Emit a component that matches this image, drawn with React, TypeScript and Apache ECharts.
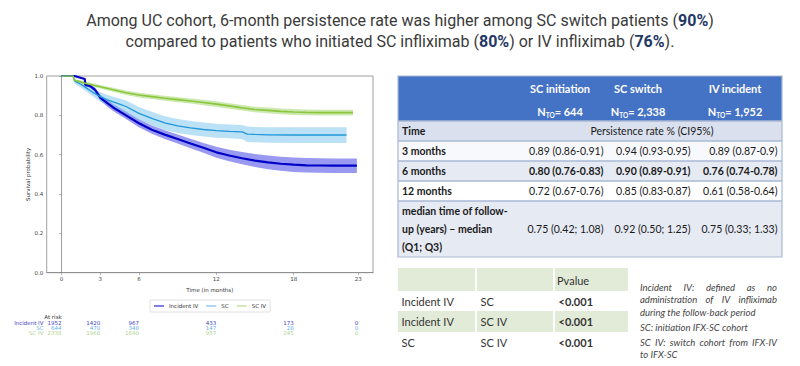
import React, { useEffect, useRef } from "react";
import * as echarts from "echarts";

// ---- KM curve data (time in months, survival probability) ----
const ivT = [0, 1.0, 1.8, 1.85, 2.2, 2.6, 3.0, 3.5, 4.0, 5.0, 6.0, 7.0, 8.0, 9.0, 10.0, 11.0, 12.0, 13.0, 14.0, 15.0, 16.0, 17.0, 18.0, 19.0, 20.0, 21.0, 22.0, 22.9];
const ivS = [1.0, 1.0, 0.985, 0.955, 0.95, 0.93, 0.89, 0.865, 0.84, 0.8, 0.76, 0.727, 0.702, 0.68, 0.657, 0.635, 0.612, 0.596, 0.582, 0.57, 0.561, 0.554, 0.549, 0.546, 0.545, 0.544, 0.544, 0.544];
const ivLo = [1.0, 1.0, 0.98, 0.945, 0.94, 0.918, 0.875, 0.848, 0.822, 0.781, 0.74, 0.706, 0.68, 0.657, 0.633, 0.61, 0.585, 0.567, 0.551, 0.537, 0.526, 0.518, 0.512, 0.509, 0.508, 0.507, 0.507, 0.507];
const ivHi = [1.0, 1.0, 0.99, 0.963, 0.96, 0.942, 0.905, 0.882, 0.858, 0.82, 0.78, 0.748, 0.724, 0.703, 0.681, 0.66, 0.64, 0.625, 0.613, 0.603, 0.596, 0.59, 0.586, 0.583, 0.582, 0.581, 0.581, 0.581];

const scT = [0, 0.9, 1.0, 1.5, 2.0, 2.5, 3.0, 3.5, 4.0, 4.5, 5.0, 6.0, 7.0, 8.0, 9.0, 10.0, 11.0, 12.0, 13.0, 14.0, 14.4, 15.0, 16.0, 18.0, 20.0, 22.1];
const scS = [1.0, 1.0, 0.975, 0.958, 0.936, 0.914, 0.895, 0.88, 0.868, 0.857, 0.845, 0.81, 0.785, 0.762, 0.746, 0.736, 0.728, 0.722, 0.718, 0.716, 0.705, 0.703, 0.701, 0.7, 0.7, 0.7];
const scLo = [1.0, 1.0, 0.962, 0.942, 0.917, 0.893, 0.87, 0.853, 0.84, 0.827, 0.813, 0.776, 0.75, 0.726, 0.71, 0.7, 0.692, 0.686, 0.683, 0.68, 0.665, 0.663, 0.661, 0.66, 0.66, 0.66];
const scHi = [1.0, 1.0, 0.986, 0.972, 0.953, 0.933, 0.917, 0.905, 0.894, 0.885, 0.875, 0.842, 0.818, 0.796, 0.781, 0.771, 0.763, 0.757, 0.753, 0.751, 0.743, 0.741, 0.74, 0.74, 0.74, 0.74];

const swT = [0, 0.9, 1.0, 1.5, 2.0, 3.0, 4.0, 5.0, 6.0, 7.0, 8.0, 9.0, 10.0, 11.0, 12.0, 13.0, 14.0, 15.0, 16.0, 17.0, 18.0, 19.0, 20.0, 21.0, 22.0, 22.6];
const swS = [1.0, 1.0, 0.978, 0.97, 0.961, 0.945, 0.93, 0.915, 0.903, 0.895, 0.887, 0.88, 0.873, 0.865, 0.857, 0.848, 0.838, 0.83, 0.825, 0.82, 0.817, 0.815, 0.814, 0.814, 0.814, 0.814];
const swLo = [1.0, 1.0, 0.972, 0.963, 0.953, 0.936, 0.92, 0.904, 0.891, 0.883, 0.874, 0.867, 0.86, 0.851, 0.843, 0.834, 0.824, 0.816, 0.81, 0.805, 0.802, 0.8, 0.799, 0.799, 0.799, 0.799];
const swHi = [1.0, 1.0, 0.984, 0.977, 0.969, 0.954, 0.94, 0.926, 0.915, 0.907, 0.9, 0.893, 0.886, 0.879, 0.871, 0.862, 0.852, 0.844, 0.84, 0.835, 0.832, 0.83, 0.829, 0.829, 0.829, 0.829];

// ---- At-risk table ----
const riskTicks = [0, 3, 6, 12, 18, 23];
const riskIV = [1952, 1420, 967, 433, 173, 0];
const riskSC = [644, 470, 348, 147, 28, 0];
const riskSW = [2338, 1968, 1640, 957, 245, 0];

// ---- Persistence table ----
const tableHeads = ["SC initiation", "SC switch", "IV incident"];
const tableN = ["644", "2,338", "1,952"];
const rowLabels = ["3 months", "6 months", "12 months"];
const row3 = ["0.89 (0.86-0.91)", "0.94 (0.93-0.95)", "0.89 (0.87-0.9)"];
const row6 = ["0.80 (0.76-0.83)", "0.90 (0.89-0.91)", "0.76 (0.74-0.78)"];
const row12 = ["0.72 (0.67-0.76)", "0.85 (0.83-0.87)", "0.61 (0.58-0.64)"];
const rowMedian = ["0.75 (0.42; 1.08)", "0.92 (0.50; 1.25)", "0.75 (0.33; 1.33)"];

// ---- P-value table ----
const pRows = [
  ["Incident IV", "SC", "<0.001"],
  ["Incident IV", "SC IV", "<0.001"],
  ["SC", "SC IV", "<0.001"],
];

// ---- Notes ----
const notes: [string, boolean][] = [
  ["Incident IV: defined as no", true],
  ["administration of IV infliximab", true],
  ["during the follow-back period", false],
  ["SC: initiation IFX-SC cohort", false],
  ["SC IV: switch cohort from IFX-IV", true],
  ["to IFX-SC", false],
];

const C_IV = "#0000c8";
const C_SC = "#2196d8";
const C_SW = "#8cc63f";

function pairs(t: number[], s: number[]) {
  return t.map((x, i) => [x, s[i]]);
}

function band(name: string, t: number[], lo: number[], hi: number[], fill: string) {
  return {
    type: "custom",
    name,
    silent: true,
    z: 1,
    data: t.map((x, i) => [x, lo[i], hi[i]]),
    encode: { x: 0, y: [1, 2] },
    renderItem: (params: any, api: any) => {
      if (params.dataIndex !== 0) return null;
      const pts: number[][] = [];
      for (let i = 0; i < t.length; i++) pts.push(api.coord([t[i], hi[i]]));
      for (let i = t.length - 1; i >= 0; i--) pts.push(api.coord([t[i], lo[i]]));
      return { type: "polygon", shape: { points: pts }, style: { fill } };
    },
  };
}

const CHART_FONT = "DejaVu Sans";
const TFONT = "Lato";

export default function App() {
  const ref = useRef<HTMLDivElement>(null);
  useEffect(() => {
    if (!ref.current) return;
    const chart = echarts.init(ref.current, null, { renderer: "svg" });
    const ctx = document.createElement("canvas").getContext("2d") as CanvasRenderingContext2D;
    const measure = (t: string, font: string) => {
      ctx.font = font;
      return ctx.measureText(t).width;
    };

    const riskAxis = (vals: number[], color: string, offset: number) => ({
      type: "value",
      gridIndex: 0,
      position: "bottom",
      min: -1.15,
      max: 24.15,
      offset,
      axisLine: { show: false },
      axisTick: { show: false },
      splitLine: { show: false },
      axisLabel: {
        customValues: riskTicks,
        margin: 0,
        align: "right",
        fontSize: 5.5,
        fontFamily: CHART_FONT,
        color,
        formatter: (v: number) => {
          const i = riskTicks.indexOf(Math.round(v));
          return i >= 0 ? String(vals[i]) : "";
        },
      },
    });

    const graphic: any[] = [];
    // Title
    const titleRich = {
      n: { fontSize: 16, fontFamily: "Roboto", fill: "#3a3a3a" },
      b: { fontSize: 16, fontFamily: "Roboto", fontWeight: "bold", fill: "#1f3864" },
    };
    graphic.push({
      type: "text",
      style: {
        x: 400, y: 20, align: "center", verticalAlign: "middle",
        text: "{n|Among UC cohort, 6-month persistence rate was higher among SC switch patients (}{b|90%}{n|)}",
        rich: titleRich,
      },
    });
    graphic.push({
      type: "text",
      style: {
        x: 400, y: 41, align: "center", verticalAlign: "middle",
        text: "{n|compared to patients who initiated SC infliximab (}{b|80%}{n|) or IV infliximab (}{b|76%}{n|).}",
        rich: titleRich,
      },
    });

    // Chart texts
    graphic.push({ type: "text", style: { x: 53, y: 316.7, text: "At risk", align: "center", verticalAlign: "middle", fontSize: 5.5, fontFamily: CHART_FONT, fill: "#333" } });
    const rn: [string, string, number][] = [["Incident IV", "#4646c0", 322.7], ["SC", "#6ab0e8", 327.7], ["SC IV", "#b0d48f", 332.7]];
    rn.forEach(([t, c, y]) =>
      graphic.push({ type: "text", style: { x: 43.5, y, text: t, align: "right", verticalAlign: "middle", fontSize: 5.5, fontFamily: CHART_FONT, fill: c } })
    );

    // Persistence table
    const TX = 398, TW = 384;
    const rowsY = [76, 121, 141, 161, 181, 201, 257];
    const fills = ["#4472c4", "#dae0ee", "#f8f9fc", "#e6eaf3", "#ffffff", "#e6eaf3"];
    for (let i = 0; i < 6; i++) {
      graphic.push({ type: "rect", shape: { x: TX, y: rowsY[i], width: TW, height: rowsY[i + 1] - rowsY[i] }, style: { fill: fills[i] } });
    }
    for (let i = 1; i < 6; i++) {
      graphic.push({ type: "line", shape: { x1: TX, y1: rowsY[i], x2: TX + TW, y2: rowsY[i] }, style: { stroke: "#a9b8d4", lineWidth: 1.5 } });
    }
    graphic.push({ type: "rect", shape: { x: TX, y: 76, width: TW, height: 181 }, style: { fill: "none", stroke: "#a9b8d4", lineWidth: 1.2 } });

    const headX = [560, 638, 735];
    tableHeads.forEach((h, i) => {
      graphic.push({ type: "text", style: { x: headX[i], y: 88.5, text: h, align: "center", verticalAlign: "middle", fontSize: 11, fontWeight: "bold", fontFamily: TFONT, fill: "#ffffff" } });
      graphic.push({
        type: "text",
        style: {
          x: headX[i], y: 111.5, align: "center", verticalAlign: "middle",
          text: `{a|N}{s|TO}{a|= ${tableN[i]}}`,
          rich: {
            a: { fontSize: 11, fontWeight: "bold", fontFamily: TFONT, fill: "#ffffff", lineHeight: 14 },
            s: { fontSize: 6.5, fontWeight: "bold", fontFamily: TFONT, fill: "#ffffff", lineHeight: 8, verticalAlign: "bottom" },
          },
        },
      });
    });
    const lblStyle = { fontSize: 10.5, fontWeight: "bold", fontFamily: TFONT, fill: "#1a1a1a", verticalAlign: "middle", align: "left" };
    graphic.push({ type: "text", style: { ...lblStyle, x: 402, y: 131, text: "Time" } });
    graphic.push({ type: "text", style: { x: 652, y: 131, text: "Persistence rate % (CI95%)", align: "center", verticalAlign: "middle", fontSize: 10.5, fontFamily: TFONT, fill: "#1a1a1a" } });
    const rowYs = [151, 171, 191];
    rowLabels.forEach((l, i) => graphic.push({ type: "text", style: { ...lblStyle, x: 402, y: rowYs[i], text: l } }));
    ["median time of follow-", "up (years) \u2013 median", "(Q1; Q3)"].forEach((l, i) =>
      graphic.push({ type: "text", style: { ...lblStyle, x: 402, y: 211 + i * 18, text: l } })
    );
    const valX = [603.5, 690.5, 777.5];
    const vals = [row3, row6, row12];
    vals.forEach((row, r) =>
      row.forEach((v, c) =>
        graphic.push({
          type: "text",
          style: { x: valX[c], y: rowYs[r], text: v, align: "right", verticalAlign: "middle", fontSize: 10.5, fontWeight: r === 1 ? "bold" : "normal", fontFamily: TFONT, fill: "#1a1a1a" },
        })
      )
    );
    rowMedian.forEach((v, c) =>
      graphic.push({ type: "text", style: { x: valX[c], y: 229, text: v, align: "right", verticalAlign: "middle", fontSize: 10.5, fontFamily: TFONT, fill: "#1a1a1a" } })
    );

    // P-value table
    const colX = [398, 477, 555];
    const colW = [77, 76, 73];
    const pY = [268, 291, 311, 332, 352];
    const pFill = ["#e2ebd8", "#ffffff", "#e2ebd8", "#ffffff"];
    for (let r = 0; r < 4; r++) {
      for (let c = 0; c < 3; c++) {
        graphic.push({ type: "rect", shape: { x: colX[c], y: pY[r], width: colW[c], height: pY[r + 1] - pY[r] }, style: { fill: pFill[r] } });
      }
    }
    graphic.push({ type: "text", style: { x: 557, y: 280, text: "Pvalue", align: "left", verticalAlign: "middle", fontSize: 11, fontFamily: TFONT, fill: "#333" } });
    pRows.forEach((row, r) => {
      const y = (pY[r + 1] + pY[r + 2]) / 2;
      row.forEach((v, c) =>
        graphic.push({ type: "text", style: { x: colX[c] + 3.5, y, text: v, align: "left", verticalAlign: "middle", fontSize: 11, fontWeight: c === 2 ? "bold" : "normal", fontFamily: TFONT, fill: "#333" } })
      );
    });

    // Notes (italic, justified lines)
    const NX0 = 640, NX1 = 777;
    const NFS = 9.5;
    const noteFont = `italic ${NFS}px ${TFONT}`;
    const noteStyle = { fontSize: NFS, fontStyle: "italic", fontFamily: TFONT, fill: "#444", verticalAlign: "middle", align: "left" };
    const noteYs = [287, 299.5, 312, 327, 342, 354.5];
    notes.forEach(([line, just], li) => {
      const y = noteYs[li];
      if (!just) {
        graphic.push({ type: "text", style: { ...noteStyle, x: NX0, y, text: line } });
        return;
      }
      const words = line.split(" ");
      const widths = words.map((w) => measure(w, noteFont));
      const total = widths.reduce((a, b) => a + b, 0);
      const gap = Math.max(2, (NX1 - NX0 - total) / (words.length - 1));
      let x = NX0;
      words.forEach((w, i) => {
        graphic.push({ type: "text", style: { ...noteStyle, x, y, text: w } });
        x += widths[i] + gap;
      });
    });

    chart.setOption({
      animation: false,
      backgroundColor: "#ffffff",
      grid: { left: 46.7, top: 76, width: 326.3, height: 196.7, show: true, borderColor: "#888", borderWidth: 0.8, containLabel: false },
      legend: {
        data: ["Incident IV", "SC", "SC IV"],
        left: 150,
        top: 300,
        icon: "rect",
        itemWidth: 10,
        itemHeight: 1,
        itemGap: 8,
        padding: [3, 4],
        borderColor: "#ccc",
        borderWidth: 0.6,
        borderRadius: 1,
        textStyle: { fontSize: 5.5, fontFamily: CHART_FONT, color: "#333" },
      },
      xAxis: [
        {
          type: "value",
          min: -1.15,
          max: 24.15,
          name: "Time (in months)",
          nameLocation: "middle",
          nameGap: 13,
          nameTextStyle: { fontSize: 5.5, fontFamily: CHART_FONT, color: "#333" },
          axisLine: { show: true, lineStyle: { color: "#888", width: 0.8 } },
          axisTick: { show: true, customValues: riskTicks, length: 2.5, lineStyle: { color: "#888", width: 0.6 } },
          axisLabel: { customValues: riskTicks, fontSize: 5.5, fontFamily: CHART_FONT, color: "#444", margin: 3.5 },
          splitLine: { show: false },
        },
        riskAxis(riskIV, "#4646c0", 47.5),
        riskAxis(riskSC, "#6ab0e8", 52.5),
        riskAxis(riskSW, "#b0d48f", 57.5),
      ],
      yAxis: {
        type: "value",
        min: 0,
        max: 1,
        interval: 0.2,
        name: "Survival probability",
        nameLocation: "middle",
        nameGap: 15,
        nameTextStyle: { fontSize: 5.5, fontFamily: CHART_FONT, color: "#333" },
        axisLine: { show: true, lineStyle: { color: "#888", width: 0.8 } },
        axisTick: { show: true, length: 2.5, lineStyle: { color: "#888", width: 0.6 } },
        axisLabel: { fontSize: 5.5, fontFamily: CHART_FONT, color: "#444", margin: 3.5, formatter: (v: number) => v.toFixed(1) },
        splitLine: { show: false },
      },
      series: [
        band("IV band", ivT, ivLo, ivHi, "rgba(70,70,230,0.55)"),
        band("SC band", scT, scLo, scHi, "rgba(120,195,240,0.5)"),
        band("SW band", swT, swLo, swHi, "rgba(160,215,110,0.55)"),
        { type: "line", name: "Incident IV", data: pairs(ivT, ivS), showSymbol: false, z: 3, lineStyle: { color: C_IV, width: 2.2 }, itemStyle: { color: C_IV } },
        { type: "line", name: "SC", data: pairs(scT, scS), showSymbol: false, z: 3, lineStyle: { color: C_SC, width: 1.3 }, itemStyle: { color: "#5aaee6" } },
        { type: "line", name: "SC IV", data: pairs(swT, swS), showSymbol: false, z: 3, lineStyle: { color: C_SW, width: 1.6 }, itemStyle: { color: "#a9d47a" } },
      ],
      graphic,
    });
    return () => chart.dispose();
  }, []);
  return (
    <div style={{ position: "fixed", left: 0, top: 0, width: 800, height: 366, background: "#fff" }}>
      <div ref={ref} style={{ width: 800, height: 366 }} />
    </div>
  );
}
